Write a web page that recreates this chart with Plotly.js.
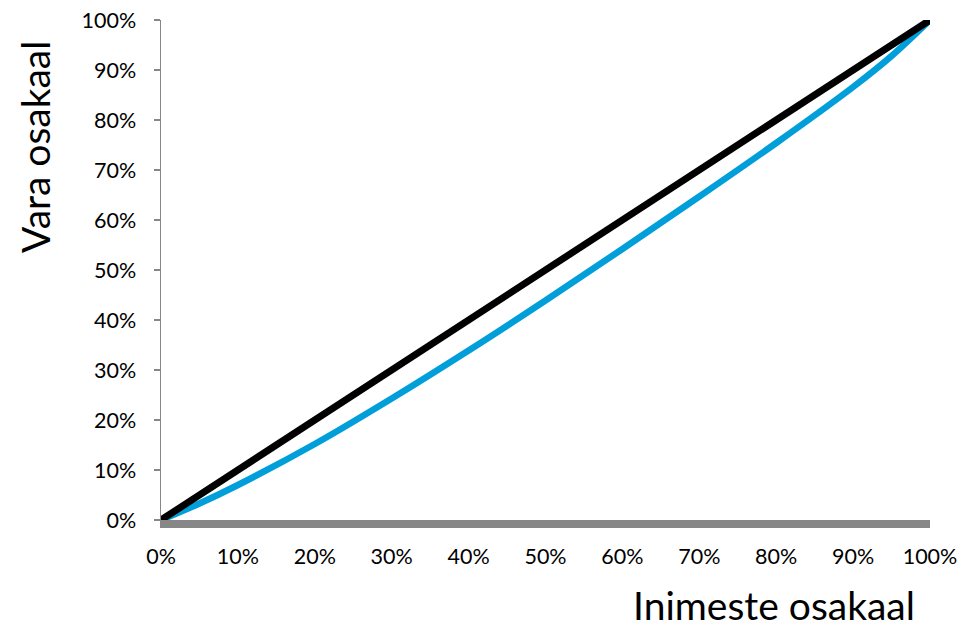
<!DOCTYPE html>
<html>
<head>
<meta charset="utf-8">
<script src="https://cdn.plot.ly/plotly-3.0.1.min.js"></script>
<style>html,body{margin:0;padding:0;background:#fff;}#chart{width:961px;height:629px;}</style>
</head>
<body>
<div id="chart"></div>
<script>
// Population share (%)
const peopleShare = [0, 5, 10, 20, 30, 40, 50, 60, 70, 80, 90, 95, 100];
// Wealth share, Lorenz curve (%)
const wealthShare = [0, 3.3, 7.0, 15.2, 24.3, 33.9, 43.9, 54.2, 64.7, 75.4, 86.6, 92.8, 100];
// Equality line
const equalityX = [0, 100];
const equalityY = [0, 100];
const tickVals = [0, 10, 20, 30, 40, 50, 60, 70, 80, 90, 100];
const tickText = ['0%', '10%', '20%', '30%', '40%', '50%', '60%', '70%', '80%', '90%', '100%'];
const xTitle = 'Inimeste osakaal';
const yTitle = 'Vara osakaal';

const font = 'Lato, Carlito, Calibri, sans-serif';

const traces = [
  {x: peopleShare, y: wealthShare, type: 'scatter', mode: 'lines',
   line: {color: '#009FDA', width: 6.5, shape: 'spline'}, hoverinfo: 'skip'},
  {x: equalityX, y: equalityY, type: 'scatter', mode: 'lines',
   line: {color: '#000000', width: 7}, hoverinfo: 'skip'}
];

const layout = {
  width: 961, height: 629,
  margin: {l: 161, r: 31, t: 20, b: 109},
  paper_bgcolor: '#ffffff', plot_bgcolor: '#ffffff',
  showlegend: false,
  font: {family: font, size: 21.5, color: '#000000'},
  xaxis: {
    range: [0, 100], tickvals: tickVals, ticktext: tickText,
    showgrid: false, zeroline: false,
    showline: true, linecolor: '#878787', linewidth: 8,
    ticks: '', ticklabelstandoff: 10,
    tickfont: {family: font, size: 21.5, color: '#000'}
  },
  yaxis: {
    range: [0, 100], tickvals: tickVals, ticktext: tickText,
    showgrid: false, zeroline: false,
    showline: true, linecolor: '#878787', linewidth: 1.5,
    ticks: 'outside', ticklen: 6, tickcolor: '#878787', tickwidth: 1.5,
    ticklabelstandoff: 13,
    tickfont: {family: font, size: 21.5, color: '#000'}
  },
  annotations: [
    {text: yTitle, xref: 'paper', yref: 'paper', x: -0.164, y: 0.746,
     xanchor: 'center', yanchor: 'middle', textangle: -90, showarrow: false,
     font: {family: font, size: 39, color: '#000'}},
    {text: xTitle, xref: 'paper', yref: 'paper', x: 0.983, y: -0.17,
     xanchor: 'right', yanchor: 'middle', showarrow: false,
     font: {family: font, size: 39, color: '#000'}}
  ]
};

Plotly.newPlot('chart', traces, layout, {staticPlot: true, displayModeBar: false});
</script>
</body>
</html>
